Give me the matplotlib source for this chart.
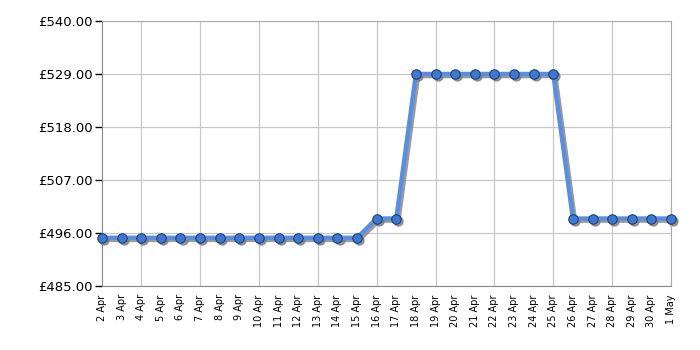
import matplotlib
matplotlib.use("Agg")
import matplotlib.pyplot as plt
from matplotlib.transforms import offset_copy

dates = ["2 Apr", "3 Apr", "4 Apr", "5 Apr", "6 Apr", "7 Apr", "8 Apr", "9 Apr", "10 Apr",
         "11 Apr", "12 Apr", "13 Apr", "14 Apr", "15 Apr", "16 Apr", "17 Apr", "18 Apr",
         "19 Apr", "20 Apr", "21 Apr", "22 Apr", "23 Apr", "24 Apr", "25 Apr", "26 Apr",
         "27 Apr", "28 Apr", "29 Apr", "30 Apr", "1 May"]
prices = [495.0] * 14 + [499.0, 499.0] + [529.0] * 8 + [499.0] * 6
yticks = [485, 496, 507, 518, 529, 540]

fig = plt.figure(figsize=(7, 3.5), dpi=100)
ax = fig.add_axes([102/700, 1 - 286/350, (671 - 102)/700, (286 - 21)/350])
x = list(range(len(dates)))

shadow_tr = offset_copy(ax.transData, fig=fig, x=1.5, y=-1.5, units="points")
ax.plot(x, prices, color="#7a7a7a", lw=3.2, marker="o", ms=6.5,
        markerfacecolor="#7a7a7a", markeredgecolor="#7a7a7a", alpha=0.75,
        transform=shadow_tr, zorder=2, clip_on=False)
ax.plot(x, prices, color="#5a8fe0", lw=3.2, marker="o", ms=6.8,
        markerfacecolor="#3f78d0", markeredgecolor="#1f3f78", markeredgewidth=0.8,
        zorder=3, clip_on=False)

ax.set_xlim(0, len(dates) - 1)
ax.set_ylim(485, 540)
ax.set_yticks(yticks)
ax.set_yticklabels([f"£{v:.2f}" for v in yticks], fontsize=9.5)

major = list(range(2, len(dates), 3))
ax.set_xticks(x)
ax.set_xticklabels(dates, rotation=90, fontsize=7)
ax.tick_params(axis="x", which="major", length=0, pad=6)
ax.set_xticks(major, minor=True)
ax.tick_params(axis="x", which="minor", length=4, width=1, color="#222222")
ax.tick_params(axis="y", length=5, width=1, pad=2)

ax.grid(axis="y", color="#c8c8c8", lw=0.9)
for i in major:
    ax.axvline(i, color="#c8c8c8", lw=0.9, zorder=0)
for s in ax.spines.values():
    s.set_color("#aaaaaa")
ax.spines["left"].set_color("#888888")
ax.spines["bottom"].set_color("#888888")

fig.savefig("out.png", dpi=100)
